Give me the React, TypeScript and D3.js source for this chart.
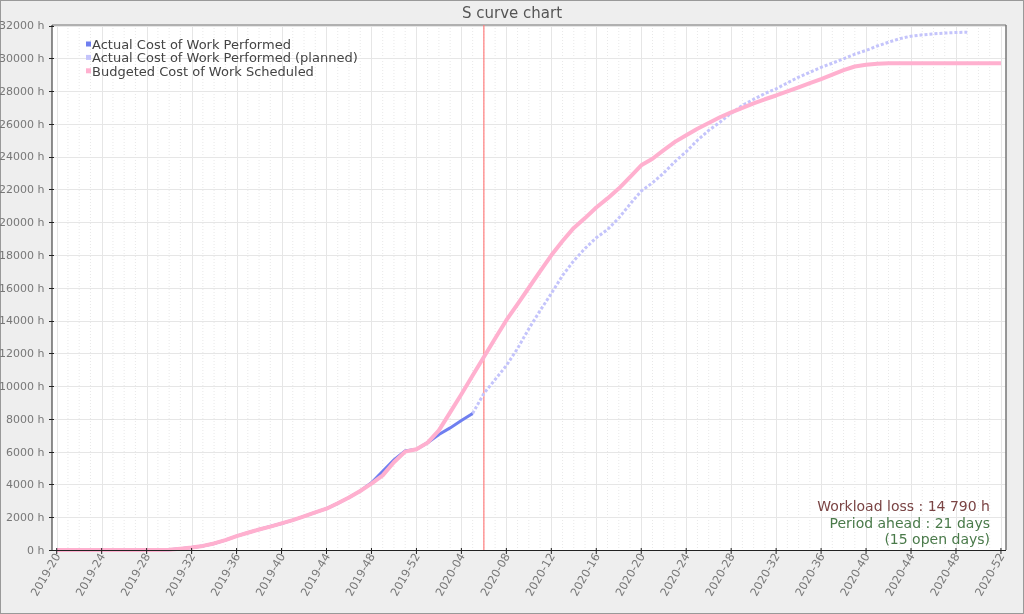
import React from "react";
import * as d3 from "d3";

// ---- data ----
const xTickLabels = [
  "2019-20", "2019-24", "2019-28", "2019-32", "2019-36", "2019-40", "2019-44",
  "2019-48", "2019-52", "2020-04", "2020-08", "2020-12", "2020-16", "2020-20",
  "2020-24", "2020-28", "2020-32", "2020-36", "2020-40", "2020-44", "2020-48", "2020-52",
];
const yTickValues = [0, 2000, 4000, 6000, 8000, 10000, 12000, 14000, 16000, 18000, 20000, 22000, 24000, 26000, 28000, 30000, 32000];

// weekly values, week index 0 = 2019-20
const bcws = [
  0, 0, 0, 0, 0, 0, 0, 0, 0, 0,
  20, 80, 150, 250, 400, 600, 850, 1050, 1250, 1430,
  1620, 1820, 2050, 2300, 2520, 2850, 3200, 3600, 4050, 4550,
  5350, 6000, 6150, 6550, 7300, 8400, 9500, 10650, 11780, 12900,
  14020, 15000, 16000, 17000, 17980, 18850, 19650, 20250, 20900, 21450,
  22050, 22750, 23470, 23870, 24400, 24900, 25300, 25700, 26050, 26400,
  26700, 26980, 27250, 27500, 27730, 27980, 28230, 28480, 28730, 29000,
  29280, 29500, 29600, 29660, 29700, 29700, 29700, 29700, 29700, 29700,
  29700, 29700, 29700, 29700, 29700,
];
const acwp = [
  0, 0, 0, 0, 0, 0, 0, 0, 0, 0,
  20, 80, 150, 250, 400, 600, 850, 1050, 1250, 1430,
  1620, 1820, 2050, 2300, 2520, 2850, 3200, 3600, 4100, 4800,
  5500, 6050, 6150, 6550, 7050, 7450, 7900, 8330,
];
const acwpPlannedStart = 37;
const acwpPlanned = [
  8330, 9550, 10400, 11250, 12300, 13500, 14600, 15650, 16750, 17650,
  18400, 19050, 19550, 20250, 21100, 21900, 22400, 23000, 23700, 24300,
  25000, 25600, 26100, 26650, 27120, 27500, 27850, 28140, 28500, 28850,
  29150, 29450, 29700, 29970, 30250, 30480, 30750, 30980, 31200, 31350,
  31430, 31490, 31540, 31570, 31590,
];
const todayWeek = 38;
const seriesNames = [
  "Actual Cost of Work Performed",
  "Actual Cost of Work Performed (planned)",
  "Budgeted Cost of Work Scheduled",
];
const seriesColors = ["#6f7ff0", "#c4c4fb", "#ffb0cf"];
const annotationLines = ["Workload loss : 14 790 h", "Period ahead : 21 days", "(15 open days)"];
const annotationColors = ["#7a4444", "#4a7a4a", "#4a7a4a"];

const W = 1024;
const H = 614;
const FONT = "DejaVu Sans, Verdana, sans-serif";

export default function App() {
  const left = 52, right = 1006, top = 25, bottom = 550;
  const x = d3.scaleLinear().domain([-0.42, 84.45]).range([left, right]);
  const y = d3.scaleLinear().domain([0, 32000]).range([bottom, top + 0.5]);
  const totalWeeks = (xTickLabels.length - 1) * 4;

  const line = d3.line<[number, number]>().x((d) => x(d[0])).y((d) => y(d[1]));
  const bcwsPts = bcws.map((v, i) => [i, v] as [number, number]);
  const acwpPts = acwp.map((v, i) => [i, v] as [number, number]);
  const planPts = acwpPlanned.map((v, i) => [i + acwpPlannedStart, v] as [number, number]);

  const weeks = d3.range(0, totalWeeks + 1);

  return (
    <svg width={W} height={H} style={{ position: "fixed", left: 0, top: 0 }} fontFamily={FONT}>
      <rect x={0.5} y={0.5} width={W - 1} height={H - 1} fill="#eeeeee" stroke="#999" />
      <text x={W / 2} y={18} textAnchor="middle" fontSize={15} fill="#555">S curve chart</text>

      <rect x={left} y={top} width={right - left} height={bottom - top} fill="#fff" />

      {/* minor vertical grid */}
      {weeks.filter((w) => w % 4 !== 0).map((w) => (
        <line key={"mv" + w} x1={x(w)} x2={x(w)} y1={top} y2={bottom} stroke="#e8e8e8" strokeDasharray="1,2" />
      ))}
      {/* major vertical grid */}
      {xTickLabels.map((_, i) => (
        <line key={"v" + i} x1={Math.round(x(i * 4)) + 0.5} x2={Math.round(x(i * 4)) + 0.5} y1={top} y2={bottom} stroke="#e6e6e6" />
      ))}
      {/* horizontal grid */}
      {yTickValues.map((v) => (
        <line key={"h" + v} x1={left} x2={right} y1={Math.round(y(v)) + 0.5} y2={Math.round(y(v)) + 0.5} stroke="#e6e6e6" />
      ))}

      {/* plot border */}
      <line x1={left} x2={right} y1={top} y2={top} stroke="#b0b0b0" strokeWidth={2} />
      <line x1={right} x2={right} y1={top} y2={bottom} stroke="#777" strokeWidth={1.5} />

      {/* today line */}
      <line x1={x(todayWeek)} x2={x(todayWeek)} y1={top} y2={bottom} stroke="#ff7d7d" strokeWidth={1.2} />

      {/* series */}
      <path d={line(planPts) || ""} fill="none" stroke={seriesColors[1]} strokeWidth={3} strokeDasharray="3,2" />
      <path d={line(acwpPts) || ""} fill="none" stroke={seriesColors[0]} strokeWidth={3} />
      <path d={line(bcwsPts) || ""} fill="none" stroke={seriesColors[2]} strokeWidth={4} strokeLinejoin="round" />

      {/* axes */}
      <line x1={left} x2={left} y1={top} y2={bottom} stroke="#222" />
      <line x1={left} x2={right} y1={bottom + 0.5} y2={bottom + 0.5} stroke="#222" />
      {yTickValues.map((v) => (
        <g key={"yt" + v}>
          <line x1={left - 3} x2={left + 2} y1={Math.round(y(v)) + 0.5} y2={Math.round(y(v)) + 0.5} stroke="#222" />
          <text x={44.5} y={y(v)} dy="0.35em" textAnchor="end" fontSize={11} fill="#777">{v + " h"}</text>
        </g>
      ))}
      {xTickLabels.map((lab, i) => {
        const px = x(i * 4);
        return (
          <g key={"xt" + i}>
            <line x1={px} x2={px} y1={bottom - 2} y2={bottom + 4} stroke="#222" />
            <text transform={`translate(${px + 4},${bottom + 6}) rotate(-60)`} textAnchor="end" fontSize={11.3} fill="#777">{lab}</text>
          </g>
        );
      })}

      {/* legend */}
      {seriesNames.map((n, i) => (
        <g key={"lg" + i}>
          <rect x={86} y={41.5 + i * 13.4} width={5} height={5} fill={seriesColors[i]} />
          <text x={92} y={44.3 + i * 13.4} dy="0.35em" fontSize={13} fill="#444">{n}</text>
        </g>
      ))}

      {/* annotations */}
      {annotationLines.map((t, i) => (
        <text key={"an" + i} x={990} y={511 + i * 16.5} textAnchor="end" fontSize={14} fill={annotationColors[i]}>{t}</text>
      ))}
    </svg>
  );
}
